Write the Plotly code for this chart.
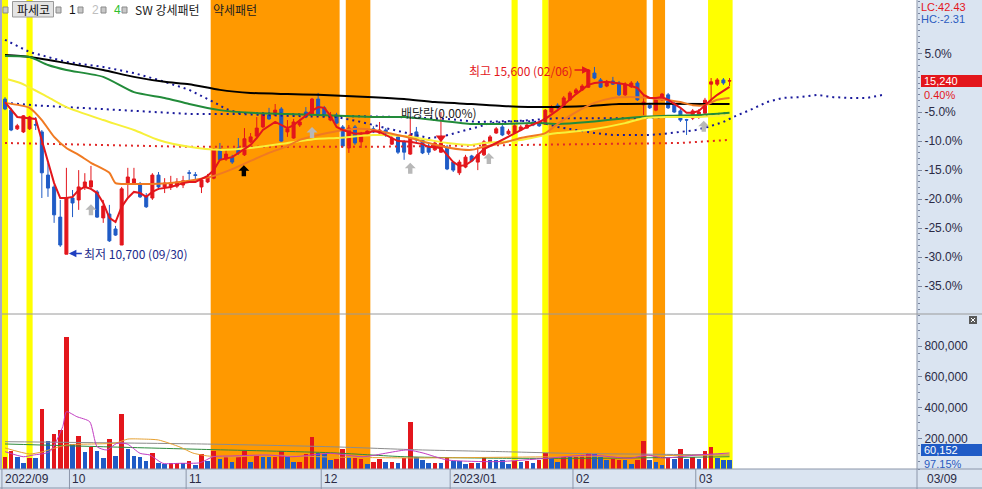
import plotly.graph_objects as go

# ---------------- data ----------------
BASE_PRICE = 15180            # previous close = 0.0% on the percent scale
LAST_PRICE = 15240
LAST_CHANGE = "0.40%"
LAST_VOLUME = 60152
LAST_VOL_RATIO = "97.15%"
LC_TEXT = "LC:42.43"
HC_TEXT = "HC:-2.31"
PERIOD_LOW, PERIOD_LOW_DATE, PERIOD_LOW_IDX = 10700, "09/30", 10
PERIOD_HIGH, PERIOD_HIGH_DATE, PERIOD_HIGH_IDX = 15600, "02/06", 96
EXDIV_IDX, EXDIV_TEXT = 71, "배당락(0.00%)"
STOCK_NAME = "파세코"

month_labels = ["2022/09", "10", "11", "12", "2023/01", "02", "03"]
month_first_idx = [0, 11, 30, 52, 73, 93, 113]
last_date_label = "03/09"

opens = [14760,14470,13980,13900,13980,14090,13900,12770,12460,11670,
         10700,12170,12120,12460,12460,12330,11650,11750,11360,10940,
         12540,12560,12510,12220,12170,12770,12460,12460,12480,12510,
         12830,12780,12460,12590,12690,13450,13190,13240,13480,13300,
         13640,13790,14030,14340,14340,14500,13900,13740,14080,14420,
         14370,14760,14530,14210,14340,14030,13480,14030,13640,13850,
         13980,13870,13950,13580,13770,13640,13320,13900,13690,13530,
         13430,13370,13500,13110,12830,12980,13270,13110,13300,13640,
         13870,14030,13850,13870,13950,14000,14160,14130,14100,14420,
         14600,14600,14740,14920,15000,15070,15440,15260,15100,15230,
         15180,14870,15080,15180,14610,14600,14470,14740,14870,14630,
         14450,14220,14260,14340,14390,15150,15150,15260,15230]
highs = [14810,14530,14110,14340,14320,14290,13950,13090,12510,12120,
         12960,12380,12900,12820,13010,12380,12120,11990,11440,12460,
         12960,12960,12590,12300,12820,12850,12690,12750,12690,12750,
         12900,12850,12690,12800,13480,13610,13450,13300,13740,14000,
         13870,14290,14420,14530,14630,14550,14210,14240,14240,14550,
         14790,14920,14580,14420,14400,14080,14080,14080,13900,13980,
         14050,14160,14000,13790,13820,13690,14290,14030,13740,13610,
         13660,14420,13560,13140,13170,13300,13300,13500,13690,13820,
         14030,14080,13980,14110,14080,14130,14210,14180,14500,14600,
         14650,14840,14970,15050,15150,15540,15600,15310,15260,15340,
         15230,15200,15230,15230,14870,14660,14790,14920,14920,14680,
         14500,14240,14500,14500,14790,15310,15310,15310,15310]
lows = [14470,13920,13950,13870,13950,13950,12170,12200,11520,10890,
        10700,11670,11860,12380,12380,11650,11520,11020,11180,10940,
        12200,12540,12170,11910,12120,12380,12300,12380,12430,12430,
        12640,12640,12300,12560,12660,13140,13140,13060,13300,13270,
        13610,13770,14000,14210,14320,13640,13770,13720,14030,14260,
        14340,14340,14290,14180,14100,13480,13350,13560,13480,13820,
        13870,13850,13770,13560,13320,13170,13300,13640,13320,13300,
        13400,13350,12900,12850,12770,12950,13110,12900,13270,13610,
        13850,13790,13820,13850,13920,13980,14050,14030,14080,14400,
        14500,14580,14710,14890,14970,15050,15280,15050,15070,15130,
        14840,14840,15050,14710,14340,14500,14440,14710,14500,14400,
        14160,13820,14210,14240,14370,14680,15100,15130,15100]
closes = [14500,13950,14060,14320,14290,14080,12830,12430,11730,10940,
          12170,12040,12460,12590,12620,11670,11960,11050,11200,12410,
          12720,12670,12200,11940,12770,12460,12560,12560,12590,12620,
          12820,12760,12640,12720,13450,13170,13320,13110,13350,13720,
          13770,14000,14370,14240,14470,13660,13980,14160,14160,14290,
          14760,14370,14340,14340,14130,13530,14000,13610,13820,13920,
          13900,13950,13870,13740,13370,13370,13820,13690,13350,13370,
          13610,13610,12930,12900,13110,13240,13140,13300,13640,13770,
          13980,13820,13920,14060,14030,14080,14080,14060,14470,14550,
          14530,14790,14920,15000,15100,15520,15310,15070,15210,15150,
          14870,15150,15180,14740,14680,14530,14760,14890,14530,14420,
          14210,14210,14450,14420,14730,15210,15260,15180,15240]

volumes = [80000,119000,76000,41000,70000,70000,391000,182000,228000,254000,
           862000,163000,215000,113000,145000,119000,74000,195000,87000,358000,
           130000,85000,80000,52000,106000,41000,33000,41000,41000,37000,
           52000,28000,96000,52000,117000,63000,80000,48000,76000,117000,
           43000,85000,80000,76000,76000,119000,80000,43000,43000,98000,
           210000,106000,98000,59000,65000,128000,80000,70000,63000,33000,
           48000,63000,44000,48000,37000,70000,308000,80000,59000,37000,
           37000,37000,80000,52000,52000,31000,41000,37000,80000,59000,
           59000,59000,33000,52000,44000,52000,41000,59000,102000,70000,
           44000,80000,76000,80000,91000,102000,96000,80000,59000,63000,
           59000,59000,33000,59000,184000,59000,48000,26000,70000,63000,
           128000,63000,76000,63000,117000,141000,70000,61916,60152]
vol_dir = list("RRBBRBRBRR" "RBRBRBBRBR" "BBBBRBBRRB" "RBRBRBRBRR"
               "BRBBRRBBRR" "RBBBRRBRRB" "RRBRBRRBBB" "RBRBBBRBRB"
               "BBBRBRBRRB" "BRBRRRBBBR" "RBBRRBBBRB" "RBRBRRBBB")

# price moving averages (read at sample candles)
ma_black_idx = [0,4,10,16,21,26,30,35,40,46,51,60,65,70,76,81,88,95,100,118]
ma_black = [15910,15860,15700,15520,15340,15210,15150,15000,14920,14890,14870,14810,
            14760,14680,14630,14580,14550,14580,14630,14630]
ma_green_idx = [0,4,7,10,16,21,26,30,35,40,46,51,60,65,70,76,81,87,90,95,101,108,113,118]
ma_green = [15887,15860,15650,15520,15340,14940,14790,14630,14470,14400,14370,14340,
            14290,14290,14210,14110,14110,14130,14110,14160,14260,14320,14340,14400]
ma_yellow_idx = [0,2.5,7,10,16,21,25,30,35,40,46,51,54,60,65,69,72,76,78,81,84,88,90,
                 95,101,104,108,113,118]
ma_yellow = [15290,15180,14810,14550,14210,13950,13690,13510,13430,13480,13610,13720,
             13740,13820,13790,13690,13610,13560,13610,13640,13690,13820,13870,13950,
             14130,14260,14290,14290,14340]
ma_orange_idx = [0,4,6,8,10,12,14,17,18,21,24,27,30,34,37.5,40,43,46,48,51,54,57.5,60,63,
                 66,69,72.5,76,78,81,84,88,90,93,96,99,103,105,107.5,110,112,114,116,118]
ma_orange = [14660,14530,14210,13770,13480,13300,13090,12830,12560,12540,12540,12560,
             12620,12750,12960,13140,13350,13530,13690,13820,13920,13980,13950,13850,
             13740,13610,13480,13430,13510,13610,13740,13870,14110,14420,14660,14790,
             14810,14790,14740,14680,14600,14600,14740,14790]
ma5_idx = [0,2,5,6,7,8,9,10,11,12,13,14,15,16,17,18,19,20,21,22,23,24,25,26,27,29,30,31,
           33,34,35,37,38,40,41,42,44,45,46,47,48,50,51,52,53,54,55,56,57,59,60,61,63,64,
           66,68,69,71,72,73,74,75,76,77,78,80,82,83,85,87,88,90,92,93,95,96,98,100,101,
           103,104,105,106,107,108,110,111,112,113,115,116,118]
ma5 = [14680,14290,14240,13690,13090,12560,12170,12170,12200,12380,12460,12410,12300,
       12040,11650,11540,11940,12170,12330,12300,12200,12330,12410,12430,12460,12560,
       12590,12590,12750,12900,13170,13240,13350,13560,13740,13950,14160,14080,14000,
       14080,14210,14450,14550,14530,14320,14030,13950,13900,13850,13870,13920,13900,
       13740,13660,13640,13580,13510,13480,13300,13110,13010,13030,13140,13300,13450,
       13610,13770,13870,14030,14160,14240,14470,14740,14890,15130,15180,15210,15180,
       15150,15050,14870,14790,14790,14810,14740,14530,14400,14400,14450,14740,14870,
       15080]

# dotted indicator lines (upper navy, lower navy incl. 26-day lead, red)
dot_a_idx = [0,4,10,16,21,25,28.5,30,34,36,38,46,54,64,72,77,84,90,103,113,118]
dot_a = [16310,15990,15730,15600,15440,15260,15080,15000,14680,14500,14400,14370,
         14320,14290,14240,14160,14190,14260,14260,14320,14400]
dot_b_idx = [0,4.5,10,16,21,26,30,38,46,54,58,62,66,69,71,73.5,75,77,79,84,87,90,93,96,
             99,105,107.5,110,112.5,114.5,117,118.6,121.3,124.1,126.7,129.5,132.2,134.9,
             137.6,140.4,143]
dot_b = [14660,14600,14550,14500,14450,14400,14370,14370,14320,14290,14160,14000,13850,
         13740,13770,13870,13950,14030,14130,14190,14160,14030,13950,13870,13820,13820,
         13850,13900,13950,14030,14160,14290,14470,14680,14790,14810,14870,14810,14790,
         14790,14870]
dot_c_idx = [0,30,60,90,100,110,118]
dot_c = [13610,13510,13510,13560,13580,13610,13690]

# volume moving averages
vma_grey_idx = [0,32,53,68,81,92,106,118]
vma_grey = [178000,163000,145000,124000,113000,102000,96000,91000]
vma_green_idx = [0,16,32,53,65,81,97,118]
vma_green = [163000,145000,128000,106000,80000,70000,70000,80000]
vma_orange_idx = [0,4,6,10,18,20,22.5,25,28.5,30.6,33,37,42.7,53,67,85,100,118]
vma_orange = [137000,98000,111000,156000,169000,195000,195000,189000,143000,104000,
              85000,78000,91000,78000,72000,78000,85000,91000]
vma_mag_idx = [0,3,4.6,7.3,9.4,10,11.7,13.8,15,16.6,18.2,19.9,22,23.6,25.7,28.5,31.8,
               33.9,37,42.7,46.9,53,58.3,65.5,68.1,72,80.1,88.3,95.3,101.8,104.6,107.2,
               112.7,118]
vma_mag = [113000,80000,91000,113000,276000,373000,341000,308000,145000,124000,167000,
           163000,102000,91000,37000,37000,41000,80000,85000,91000,80000,102000,80000,
           124000,104000,59000,48000,70000,91000,70000,91000,72000,91000,104000]

# pattern bands (first, last candle)
bull_bands = [(0, 0), (4, 4), (83, 83), (88, 88), (115, 118)]     # SW 강세패턴
bear_bands = [(34, 54), (56, 59), (89, 104), (106, 107)]          # 약세패턴

# signal arrows (candle, price at arrow tip)
grey_up_idx = [14, 50, 66, 78.8, 113.8]
grey_up_price = [12010, 14030, 13090, 13350, 14190]
black_up_idx = [38.9]
black_up_price = [13030]
exdiv_marker_price = 13750

pct_ticks = [10, 5, 0, -5, -10, -15, -20, -25, -30, -35]
vol_ticks = [200000, 400000, 600000, 800000]

# ---------------- styling ----------------
W, H = 982, 489
RED, BLUE = "#E3161C", "#1F5BC6"
ORANGE_BAND, YELLOW_BAND = "#FF9900", "#FFFF00"
AXBG = "#DAE4F1"
LINEC = "#8C96AA"
NUMFONT = "Liberation Sans, Arial, sans-serif"
KRFONT = "Noto Sans CJK KR, sans-serif"
TXT = "#2B2B45"
ARROW_PATH = "M0,0 L-5.5,-5.5 L-2.2,-5.5 L-2.2,-11 L2.2,-11 L2.2,-5.5 L5.5,-5.5 Z"

def px(x):
    return x / W

def py(y):
    return 1 - y / H

X_DOMAIN_END = px(917)
x_range = [-0.814, 148.53]
price_range = [9161, 17352]
vol_range = [0, 1009825]

n = len(closes)
idx = list(range(n))

fig = go.Figure()

def line(xs, ys, color, width=2, dash=None, axis=("x", "y"), shape="spline"):
    fig.add_trace(go.Scatter(
        x=xs, y=ys, mode="lines", xaxis=axis[0], yaxis=axis[1],
        line=dict(color=color, width=width, dash=dash, shape=shape,
                  smoothing=0.6 if shape == "spline" else None),
        hoverinfo="skip", showlegend=False))

DOT = "2px,4px"
line(dot_c_idx, dot_c, "#E02828", 2, DOT, shape="linear")
line(dot_a_idx, dot_a, "#1A1A9C", 2, DOT, shape="linear")
line(dot_b_idx, dot_b, "#1A1A9C", 2, DOT, shape="linear")
line(ma_black_idx, ma_black, "#000000", 2)
line(ma_green_idx, ma_green, "#228B3A", 2)
line(ma_yellow_idx, ma_yellow, "#F7F03A", 2)
line(ma_orange_idx, ma_orange, "#F07A22", 2)

fig.add_trace(go.Candlestick(
    x=idx, open=opens, high=highs, low=lows, close=closes,
    increasing=dict(line=dict(color=RED, width=1), fillcolor=RED),
    decreasing=dict(line=dict(color=BLUE, width=1), fillcolor=BLUE),
    whiskerwidth=0, xaxis="x", yaxis="y", showlegend=False, hoverinfo="skip"))

line(ma5_idx, ma5, "#E3161C", 2, shape="linear")

fig.add_trace(go.Scatter(
    x=[EXDIV_IDX], y=[exdiv_marker_price], mode="markers",
    marker=dict(symbol="triangle-down", size=9, color="#E3161C"),
    hoverinfo="skip", showlegend=False))

fig.add_trace(go.Bar(
    x=idx, y=volumes, xaxis="x2", yaxis="y2", width=0.74,
    marker=dict(color=[RED if d == "R" else BLUE for d in vol_dir], line=dict(width=0)),
    hoverinfo="skip", showlegend=False))

line(vma_grey_idx, vma_grey, "#8C8C8C", 1, axis=("x2", "y2"))
line(vma_green_idx, vma_green, "#2E8B3E", 1, axis=("x2", "y2"))
line(vma_orange_idx, vma_orange, "#E6A030", 1, axis=("x2", "y2"))
line(vma_mag_idx, vma_mag, "#C23CC2", 1, axis=("x2", "y2"))

shapes = []
# axis strips
shapes.append(dict(type="rect", xref="paper", yref="paper", x0=X_DOMAIN_END, x1=1, y0=0, y1=1,
                   fillcolor=AXBG, line=dict(width=0), layer="below"))
shapes.append(dict(type="rect", xref="paper", yref="paper", x0=0, x1=X_DOMAIN_END, y0=0,
                   y1=py(469), fillcolor=AXBG, line=dict(width=0), layer="below"))
# pattern bands
for a, b in bull_bands:
    shapes.append(dict(type="rect", xref="x", yref="paper", x0=a - 0.5, x1=b + 0.5,
                       y0=py(469), y1=1, fillcolor=YELLOW_BAND, line=dict(width=0), layer="below"))
for a, b in bear_bands:
    shapes.append(dict(type="rect", xref="x", yref="paper", x0=a - 0.5, x1=b + 0.5,
                       y0=py(469), y1=1, fillcolor=ORANGE_BAND, line=dict(width=0), layer="below"))
# frame lines
shapes += [
    dict(type="line", xref="paper", yref="paper", x0=X_DOMAIN_END, x1=X_DOMAIN_END, y0=0, y1=1,
         line=dict(color=LINEC, width=1)),
    dict(type="line", xref="paper", yref="paper", x0=0, x1=1, y0=py(314), y1=py(314),
         line=dict(color="#9A9A9A", width=1)),
    dict(type="line", xref="paper", yref="paper", x0=0, x1=1, y0=py(469), y1=py(469),
         line=dict(color=LINEC, width=1)),
    dict(type="line", xref="paper", yref="paper", x0=0, x1=1, y0=py(488), y1=py(488),
         line=dict(color=LINEC, width=1)),
    dict(type="line", xref="paper", yref="paper", x0=px(1), x1=px(1), y0=py(469), y1=1,
         line=dict(color="#A8A8C8", width=2)),
]
for i in month_first_idx:
    shapes.append(dict(type="line", xref="x", yref="paper", x0=i - 0.5, x1=i - 0.5,
                       y0=0, y1=py(469), line=dict(color=LINEC, width=1)))
# signal arrows (block arrows anchored at data points, drawn in pixel units)
for xs, ps, col in [(grey_up_idx, grey_up_price, "#B8B8B8"),
                    (black_up_idx, black_up_price, "#000000")]:
    for xi, p in zip(xs, ps):
        shapes.append(dict(type="path", xref="x", yref="y", xsizemode="pixel",
                           ysizemode="pixel", xanchor=xi, yanchor=p, path=ARROW_PATH,
                           fillcolor=col, line=dict(width=0)))
# legend boxes
for sx in [3, 56, 78, 101, 122]:
    shapes.append(dict(type="rect", xref="paper", yref="paper", x0=px(sx), x1=px(sx + 5),
                       y0=py(13), y1=py(7), fillcolor="#C8C8C8", line=dict(color="#8A8A8A", width=1)))
shapes.append(dict(type="rect", xref="paper", yref="paper", x0=px(12.5), x1=px(53.5),
                   y0=py(17), y1=py(1.5), fillcolor="#E4E4E4", line=dict(color="#9A9A9A", width=1)))
# price / volume value boxes
shapes.append(dict(type="rect", xref="paper", yref="paper", x0=px(921), x1=1, y0=py(87),
                   y1=py(75), fillcolor="#E3161C", line=dict(width=0)))
shapes.append(dict(type="rect", xref="paper", yref="paper", x0=px(921), x1=1, y0=py(456),
                   y1=py(444), fillcolor="#1F5BC6", line=dict(width=0)))
# close icon
shapes.append(dict(type="rect", xref="paper", yref="paper", x0=px(969), x1=px(977), y0=py(324),
                   y1=py(316), fillcolor="#5A5A5A", line=dict(width=0)))
shapes.append(dict(type="line", xref="paper", yref="paper", x0=px(971), x1=px(975), y0=py(322),
                   y1=py(318), line=dict(color="#FFFFFF", width=1)))
shapes.append(dict(type="line", xref="paper", yref="paper", x0=px(971), x1=px(975), y0=py(318),
                   y1=py(322), line=dict(color="#FFFFFF", width=1)))

ann = []
def t(x, y, text, color=TXT, size=12, font=KRFONT, anchor="left", yanchor="middle"):
    ann.append(dict(x=px(x), y=py(y), xref="paper", yref="paper", text=text, showarrow=False,
                    xanchor=anchor, yanchor=yanchor, font=dict(family=font, size=size, color=color),
                    borderpad=0))

t(33, 9.5, STOCK_NAME, "#111111", 12, anchor="center")
t(68, 9.5, "1", "#111111", 12, NUMFONT)
t(91, 9.5, "2", "#BEBEBE", 12, NUMFONT)
t(113, 9.5, "4", "#2FBF2F", 12, NUMFONT)
t(134, 9.5, "SW 강세패턴", "#222222", 12)
t(212, 9.5, "약세패턴", "#222222", 12)

t(920, 0, LC_TEXT, "#E3161C", 11, NUMFONT, yanchor="top")
t(920, 12, HC_TEXT, "#2A5BC0", 11, NUMFONT, yanchor="top")
t(923, 87.5, f"{LAST_PRICE:,}", "#FFFFFF", 11, NUMFONT, yanchor="bottom")
t(923, 87.5, LAST_CHANGE, "#E3161C", 11, NUMFONT, yanchor="top")
t(923, 456.5, f"{LAST_VOLUME:,}", "#FFFFFF", 11, NUMFONT, yanchor="bottom")
t(923, 456.5, LAST_VOL_RATIO, "#2A5BC0", 11, NUMFONT, yanchor="top")
t(926, 479, last_date_label, TXT, 12, NUMFONT)

for lab, i in zip(month_labels, month_first_idx):
    ann.append(dict(x=i - 0.5, y=py(479), xref="x", yref="paper", text=lab, showarrow=False,
                    xanchor="left", yanchor="middle", xshift=1,
                    font=dict(family=NUMFONT, size=12, color=TXT)))

ann.append(dict(x=PERIOD_LOW_IDX + 0.4, y=PERIOD_LOW + 20, xref="x", yref="y",
                text=f"최저 {PERIOD_LOW:,} ({PERIOD_LOW_DATE})", showarrow=True,
                ax=13, ay=0, xanchor="left", arrowhead=2, arrowsize=1, arrowwidth=1.5,
                arrowcolor="#1F3FC0", standoff=0, startstandoff=0,
                font=dict(family=KRFONT, size=12, color="#1C2A8A")))
ann.append(dict(x=PERIOD_HIGH_IDX - 0.8, y=PERIOD_HIGH - 80, xref="x", yref="y",
                text=f"최고 {PERIOD_HIGH:,} ({PERIOD_HIGH_DATE})", showarrow=True,
                ax=-15, ay=0, xanchor="right", arrowhead=2, arrowsize=1, arrowwidth=1.5,
                arrowcolor="#E3161C", standoff=0,
                font=dict(family=KRFONT, size=12, color="#E3161C")))
ann.append(dict(x=EXDIV_IDX - 0.4, y=14395, xref="x", yref="y", text=EXDIV_TEXT,
                showarrow=False, xanchor="center", yanchor="middle",
                font=dict(family=KRFONT, size=12, color="#222222")))

tickvals = [BASE_PRICE * (1 + p / 100) for p in pct_ticks]
ticktext = ["" if p in (10, 0) else f"{p:.1f}%" for p in pct_ticks]
minor_vals = [BASE_PRICE * (1 + p / 100) for p in range(-40, 15)]

common_x = dict(range=x_range, domain=[0, X_DOMAIN_END], showgrid=False, zeroline=False,
                showticklabels=False, ticks="", showline=False, fixedrange=True, automargin=False)
fig.update_layout(
    template="none", width=W, height=H, autosize=False,
    margin=dict(l=0, r=0, t=0, b=0, pad=0),
    paper_bgcolor="#FFFFFF", plot_bgcolor="rgba(0,0,0,0)",
    showlegend=False, bargap=0,
    xaxis=dict(**common_x, anchor="y", rangeslider=dict(visible=False)),
    xaxis2=dict(**common_x, anchor="y2", matches="x"),
    yaxis=dict(domain=[py(313), 1], range=price_range, side="right", anchor="x",
               tickvals=tickvals, ticktext=ticktext, ticks="outside", ticklen=4,
               tickcolor="#7A86A0", tickwidth=1, showgrid=False, zeroline=False,
               showline=False, automargin=False, fixedrange=True,
               tickfont=dict(family=NUMFONT, size=12, color=TXT),
               minor=dict(tickvals=minor_vals, ticks="outside", ticklen=2,
                          tickcolor="#7A86A0", showgrid=False)),
    yaxis2=dict(domain=[py(469), py(314)], range=vol_range, side="right", anchor="x2",
                tickvals=vol_ticks, ticktext=[f"{v:,}" for v in vol_ticks], ticks="outside",
                ticklen=4, tickcolor="#7A86A0", showgrid=False, zeroline=False,
                showline=False, automargin=False, fixedrange=True,
                tickfont=dict(family=NUMFONT, size=12, color=TXT),
                minor=dict(dtick=50000, ticks="outside", ticklen=2, tickcolor="#7A86A0",
                           showgrid=False)),
    shapes=shapes, annotations=ann,
)

fig.write_html("out.html", config=dict(displayModeBar=False),
               post_script="document.body.style.margin='0px';document.body.style.overflow='hidden';")
